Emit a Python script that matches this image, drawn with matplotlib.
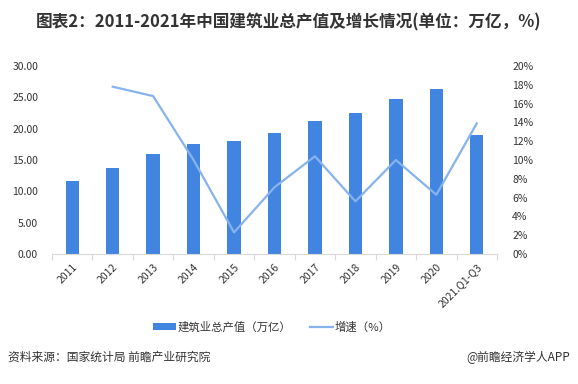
import numpy as np
import matplotlib
matplotlib.use("Agg")
import matplotlib.pyplot as plt
from matplotlib.lines import Line2D
from matplotlib.patches import Patch

plt.rcParams['font.family'] = ['Noto Sans CJK SC', 'DejaVu Sans']

years = ['2011', '2012', '2013', '2014', '2015', '2016', '2017', '2018', '2019', '2020', '2021.Q1-Q3']
output_value = [11.65, 13.67, 15.96, 17.55, 18.03, 19.3, 21.3, 22.5, 24.8, 26.3, 19.0]
growth_years = ['2012', '2013', '2014', '2015', '2016', '2017', '2018', '2019', '2020', '2021.Q1-Q3']
growth = [17.8, 16.8, 10.0, 2.3, 7.1, 10.4, 5.6, 10.0, 6.3, 13.9]

bar_color = '#4285E0'
line_color = '#86B3EE'
axis_color = '#D9D9D9'
text_color = '#333333'

fig = plt.figure(figsize=(5.78, 3.84), dpi=100)
ax = fig.add_axes([52 / 578, 1 - 254 / 384, 445 / 578, 188 / 384])

x = np.arange(len(years))
ax.bar(x, output_value, width=0.33, color=bar_color, zorder=2)
ax.set_xlim(-0.5, len(years) - 0.5)
ax.set_ylim(0, 30)
ax.set_yticks(np.arange(0, 31, 5))
ax.set_yticklabels([f'{v:.2f}' for v in np.arange(0, 31, 5)], fontsize=7.5, color=text_color)
ax.tick_params(axis='y', length=0, pad=10)

ax.set_xticks(x)
ax.set_xticklabels(years, rotation=45, ha='right', rotation_mode='anchor', fontsize=7.5, color=text_color)
ax.tick_params(axis='x', length=0, pad=6)
# boundary ticks between categories
ax.set_xticks(np.arange(-0.5, len(years)), minor=True)
ax.tick_params(axis='x', which='minor', length=4, color=axis_color, width=0.8)

for s in ['top', 'right', 'left']:
    ax.spines[s].set_visible(False)
ax.spines['bottom'].set_color(axis_color)
ax.spines['bottom'].set_linewidth(0.8)

ax2 = ax.twinx()
gx = [years.index(y) for y in growth_years]
ax2.plot(gx, growth, color=line_color, linewidth=1.6, zorder=3)
ax2.set_ylim(0, 20)
ax2.set_yticks(np.arange(0, 21, 2))
ax2.set_yticklabels([f'{v}%' for v in range(0, 21, 2)], fontsize=7.5, color=text_color)
ax2.tick_params(axis='y', length=0, pad=11)
for s in ['top', 'right', 'left', 'bottom']:
    ax2.spines[s].set_visible(False)

fig.text(0.5, 1 - 22 / 384, '图表2：2011-2021年中国建筑业总产值及增长情况(单位：万亿，%)',
         ha='center', va='center', fontsize=12, fontweight='bold', color=text_color)

handles = [Patch(facecolor=bar_color, edgecolor='none'),
           Line2D([0], [0], color=line_color, linewidth=1.6)]
fig.legend(handles, ['建筑业总产值（万亿）', '增速（%）'], loc='center',
           bbox_to_anchor=(272 / 578, 1 - 327 / 384), ncol=2, frameon=False,
           fontsize=8.2, handlelength=2.0, handleheight=0.6, handletextpad=0.2,
           columnspacing=1.6, labelcolor=text_color)

fig.text(8 / 578, 1 - 357 / 384, '资料来源：国家统计局 前瞻产业研究院',
         ha='left', va='center', fontsize=8.5, color=text_color)
fig.text(570 / 578, 1 - 357 / 384, '@前瞻经济学人APP',
         ha='right', va='center', fontsize=8.5, color=text_color)

fig.savefig('out.png', dpi=100)
